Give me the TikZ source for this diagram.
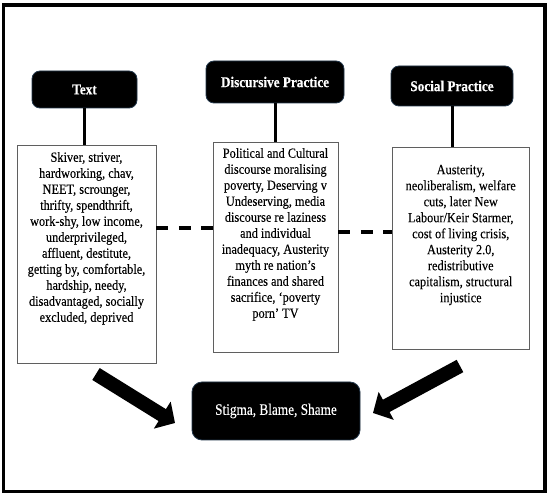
\documentclass[tikz,border=0pt]{standalone}
\usepackage{fontspec}
\setmainfont{Liberation Serif}[FakeStretch=0.88, FakeBold=0.1, BoldFeatures={FakeBold=0.3}]
\newfontfamily\resultfont{Liberation Serif}[FakeStretch=0.83, FakeBold=0.2]
\usetikzlibrary{arrows.meta}
\begin{document}
\begin{tikzpicture}[x=1pt,y=-1pt,
  hdr/.style={fill=black, draw={rgb,255:red,35;green,55;blue,75}, line width=0.8pt, rounded corners=8pt, text=white, font=\fontsize{15}{16}\selectfont\bfseries, inner sep=0pt},
  txtbox/.style={draw={rgb,255:red,95;green,95;blue,95}, line width=0.9pt, fill=white, inner sep=0pt},
  bodytext/.style={align=center, font=\fontsize{14}{16}\selectfont, inner sep=0pt, anchor=north},
  vlink/.style={line width=3pt},
  dlink/.style={line width=4pt, dash pattern=on 12pt off 10.5pt},
  bigarrow/.style={line width=14pt, -{Triangle[width=31pt,length=15pt]}}
]
\useasboundingbox (0,0) rectangle (550,497);
\draw[line width=3.5pt] (3.5,5) rectangle (545,491.5);

% headers
\node[hdr, minimum width=105pt, minimum height=37pt] (h1) at (84.5,89.5) {Text};
\node[hdr, minimum width=138pt, minimum height=42pt] (h2) at (275,82) {Discursive Practice};
\node[hdr, minimum width=122pt, minimum height=40pt] (h3) at (452,86) {Social Practice};

% boxes
\node[txtbox, minimum width=139pt, minimum height=218pt] (b1) at (86.5,254) {};
\node[txtbox, minimum width=125pt, minimum height=210pt] (b2) at (275.5,247) {};
\node[txtbox, minimum width=137.5pt, minimum height=202.5pt] (b3) at (460.75,248.25) {};

\node[bodytext] (t1) at ([yshift=-7.3pt]b1.north) {Skiver, striver,\\hardworking, chav,\\NEET, scrounger,\\thrifty, spendthrift,\\work-shy, low income,\\underprivileged,\\affluent, destitute,\\getting by, comfortable,\\hardship, needy,\\disadvantaged, socially\\excluded, deprived};
\node[bodytext] (t2) at ([yshift=-6.3pt]b2.north) {Political and Cultural\\discourse moralising\\poverty, Deserving v\\Undeserving, media\\discourse re laziness\\and individual\\inadequacy, Austerity\\myth re nation’s\\finances and shared\\sacrifice, ‘poverty\\porn’ TV};
\node[bodytext] (t3) at ([yshift=-18.2pt]b3.north) {Austerity,\\neoliberalism, welfare\\cuts, later New\\Labour/Keir Starmer,\\cost of living crisis,\\Austerity 2.0,\\redistributive\\capitalism, structural\\injustice};

% vertical links
\draw[vlink] (h1.south) -- (h1.south |- b1.north);
\draw[vlink] (h2.south) -- (h2.south |- b2.north);
\draw[vlink] (h3.south) -- (h3.south |- b3.north);

% dashed links
\coordinate (dl) at (0,228);
\coordinate (dr) at (0,232);
\draw[dlink] (b1.east |- dl) -- (b2.west |- dl);
\draw[dlink] (b2.east |- dr) -- (b3.west |- dr);

% result
\node[hdr, font=\resultfont\fontsize{16}{18}\selectfont, rounded corners=10pt, minimum width=168pt, minimum height=58pt] (s) at (276,411) {Stigma, Blame, Shame};

% arrows
\coordinate (la) at (96,374);
\coordinate (lt) at (175,423);
\coordinate (ra) at (460,366);
\coordinate (rt) at (373,413);
\draw[bigarrow] (la) -- (lt);
\draw[bigarrow] (ra) -- (rt);
\end{tikzpicture}
\end{document}
